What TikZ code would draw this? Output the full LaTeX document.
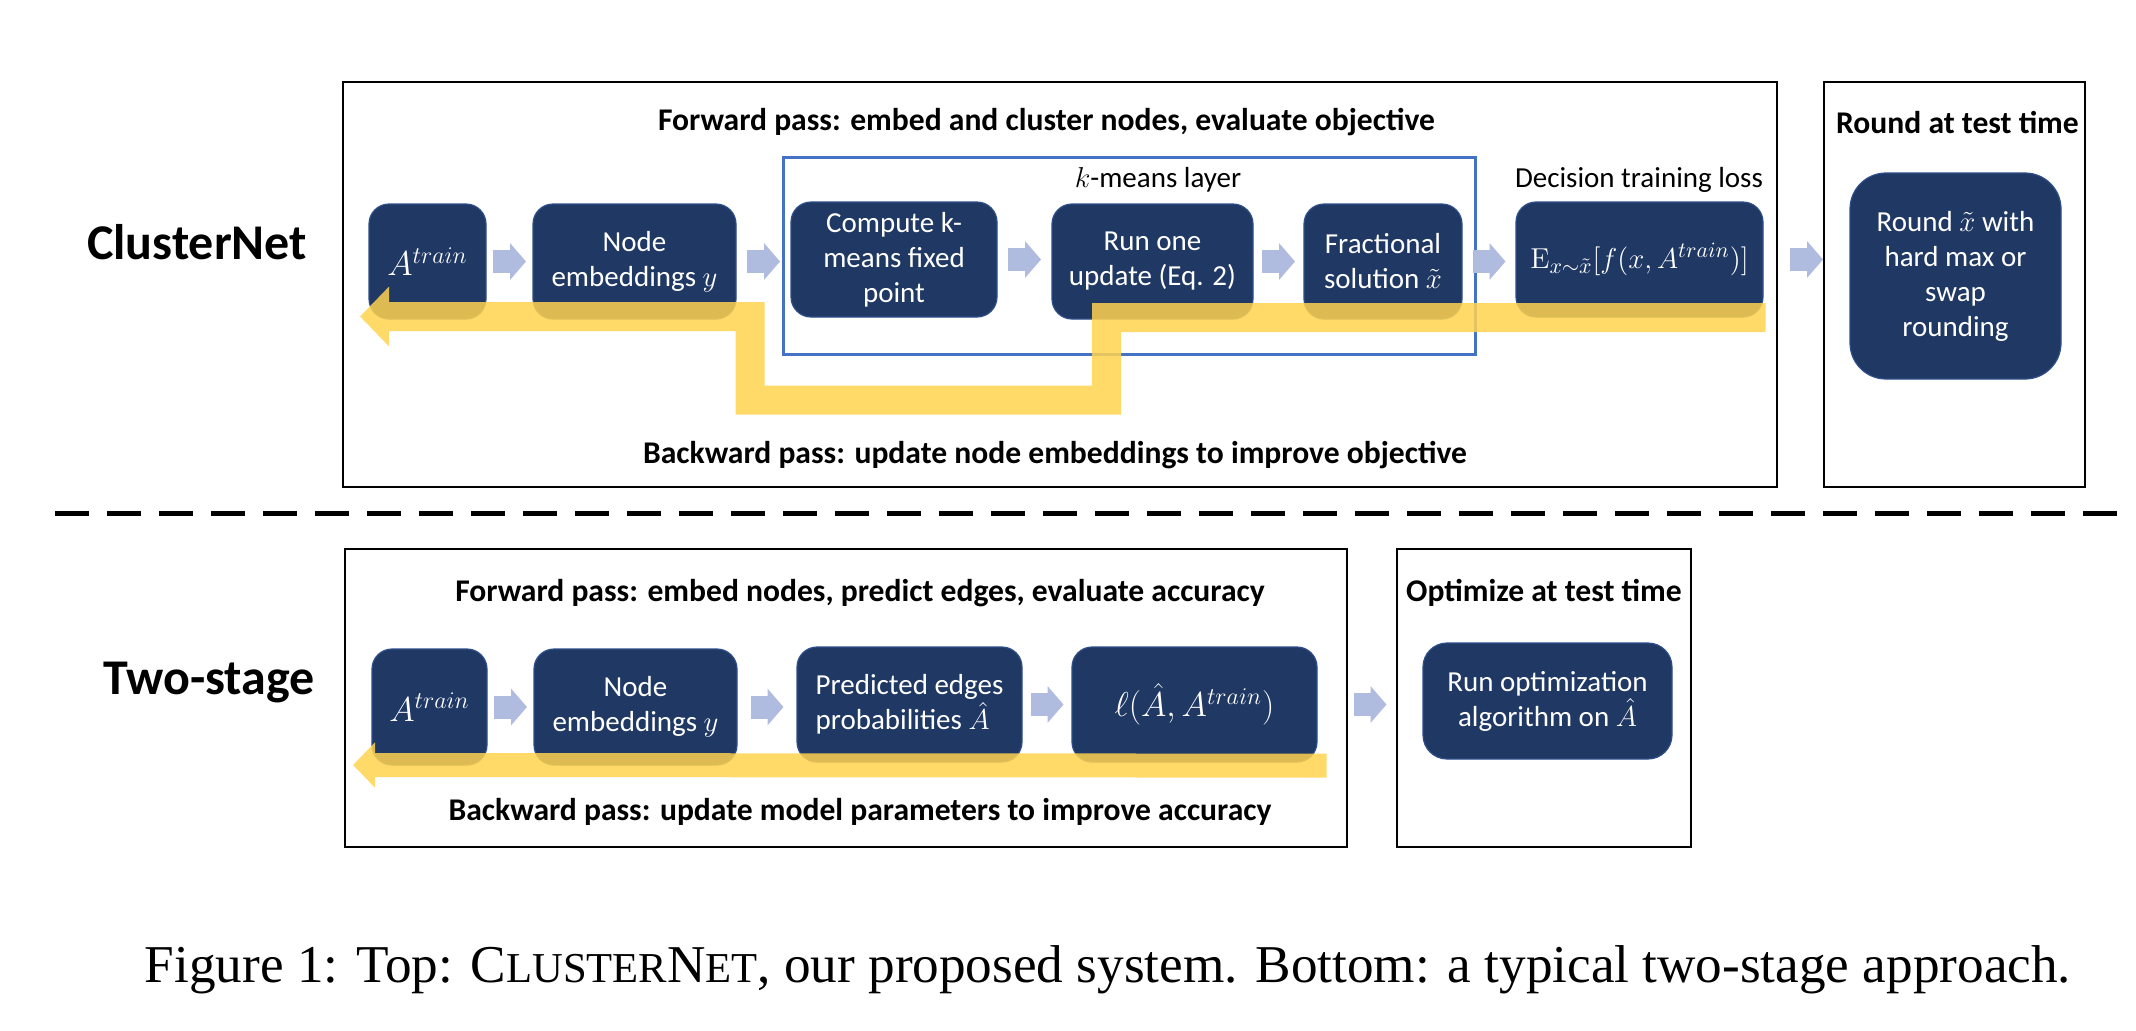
\documentclass[tikz,border=0pt]{standalone}
\usepackage[no-math]{fontspec}
\setmainfont{Carlito}
\newfontfamily\capfont{Liberation Serif}
\usetikzlibrary{arrows.meta, calc, backgrounds}
\definecolor{Navy}  {HTML}{203864}
\definecolor{NavyE} {HTML}{2F4F8A}
\definecolor{KBlue} {HTML}{4472C4}
\definecolor{Lav}   {HTML}{B0BBE0}
\definecolor{Gold}  {HTML}{FFD34F}
\newcommand{\smc}[1]{{\fontsize{21.3}{25}\selectfont #1}}
\tikzset{
  blk/.style args={#1/#2}{
    rectangle, rounded corners=10pt,
    draw=NavyE, fill=Navy, text=white, line width=0.6pt,
    font=\fontsize{14.5}{17.5}\selectfont, align=center,
    inner sep=2pt, minimum width=#1, minimum height=#2,
  },
  mth/.style={font=\fontsize{#1}{20}\selectfont},
  frm/.style args={#1/#2}{
    rectangle, draw=black, line width=1pt,
    minimum width=#1, minimum height=#2, inner sep=0pt,
  },
  hdr/.style={font=\fontsize{15.8}{19}\selectfont\bfseries, inner sep=0pt},
  lbl/.style={font=\fontsize{14.5}{17.5}\selectfont, inner sep=0pt},
  side/.style={font=\fontsize{25}{30}\selectfont\bfseries, inner sep=0pt, anchor=base},
  fwd/.style={-{Triangle[length=8pt,width=18pt]}, line width=11.5pt, color=Lav},
  band/.style args={#1/#2/#3}{
    -{Triangle[length=#2,width=#3]},
    line width=#1, color=Gold,
  },
}

\begin{document}
\begin{tikzpicture}[x=0.5pt,y=-0.5pt]
  \useasboundingbox (0,0) rectangle (2136,1030);

  % ClusterNet row
  \node[side] (cnlbl) at (197,259) {ClusterNet};
  \node[frm=717pt/202.5pt] (cnfrm)  at (1060,284.5) {};
  \node[frm=130.5pt/202.5pt] (rndfrm) at (1954.5,284.5) {};
  \node[frm=346pt/98.5pt, draw=KBlue, line width=1.5pt] (kmfrm) at (1129,255.5) {};

  \node[hdr] (cnfw)  at (1046.5,122) {Forward pass: embed and cluster nodes, evaluate objective};
  \node[hdr] (cnbw)  at (1055,455)   {Backward pass: update node embeddings to improve objective};
  \node[hdr] (rndhd) at (1957.5,122) {Round at test time};
  \node[lbl] (kmlbl) at (1158,180)   {$k$-means layer};
  \node[lbl] (dclbl) at (1639,180)   {Decision training loss};

  \node[blk=58.5pt/57.5pt, mth=17] (atr)  at (427.5,261.5) {$A^{train}$};
  \node[blk=101.5pt/57.5pt] (emb)  at (634.5,261.5) {Node\\embeddings $y$};
  \node[blk=103pt/57.5pt]   (kfix) at (894,259.5)   {Compute k-\\means fixed\\point};
  \node[blk=100.5pt/57.5pt] (upd)  at (1152.5,261.5) {Run one\\update (Eq. 2)};
  \node[blk=79pt/57.5pt]    (frac) at (1383,261.5)  {Fractional\\solution $\tilde{x}$};
  \node[blk=123.5pt/57.5pt, mth=15.8] (loss) at (1639.5,259.5)
        {$\mathrm{E}_{x\sim\tilde{x}}\big[f(x,A^{train})\big]$};
  \node[blk=105.5pt/103pt, rounded corners=18pt] (rnd) at (1955.5,276)
        {Round $\tilde{x}$ with\\hard max or\\swap\\rounding};

  \foreach \a/\b in {atr/emb, emb/kfix, kfix/upd, upd/frac, frac/loss, loss/rnd}
    \draw[fwd] ($(\a.east)!0.5!(\b.west |- \a.east)+(-16.5,0)$) -- ++(33,0);

  \coordinate (bR) at (1106.5,400);
  \coordinate (bL) at (750,400);
  \coordinate (tipA) at (360,316.5);
  \begin{scope}[transparency group, opacity=0.85]
    \draw[band=14.5pt/14.5pt/29pt]
      ([xshift=1pt]loss.south east) -| (bR) -- (bL) |- (tipA);
  \end{scope}

  \draw[line width=2.5pt, dash pattern=on 17pt off 9pt] (55,513) -- (2118,513);

  % Two-stage row
  \node[side] (tslbl) at (209,694) {Two-stage};
  \node[frm=501pt/149pt] (tsfrm)  at (846,698) {};
  \node[frm=147pt/149pt] (optfrm) at (1544,698) {};

  \node[hdr] (tsfw)  at (860,593)  {Forward pass: embed nodes, predict edges, evaluate accuracy};
  \node[hdr] (tsbw)  at (860,812)  {Backward pass: update model parameters to improve accuracy};
  \node[hdr] (opthd) at (1544,593) {Optimize at test time};

  \node[blk=57.5pt/58pt, mth=17] (atr2) at (429.5,707)  {$A^{train}$};
  \node[blk=101.5pt/58pt]   (emb2) at (635.5,707)  {Node\\embeddings $y$};
  \node[blk=112.5pt/57.5pt, align=left] (pred) at (909.5,704.5)
        {Predicted edges\\probabilities $\hat{A}$};
  \node[blk=122.5pt/57.5pt, mth=17] (ell)  at (1194.5,704.5) {$\ell(\hat{A},A^{train})$};
  \node[blk=124.5pt/58pt, rounded corners=12pt] (ropt) at (1547.5,701)
        {Run optimization\\algorithm on $\hat{A}$};

  \foreach \a/\b in {atr2/emb2, emb2/pred, pred/ell, ell/ropt}
    \draw[fwd] ($(\a.east)!0.5!(\b.west |- \a.east)+(-16.5,0)$) -- ++(33,0);

  \coordinate (tipB) at (353,765);
  \begin{scope}[transparency group, opacity=0.85]
    \draw[band=12pt/11pt/22pt] ([xshift=4.5pt,yshift=-1.5pt]ell.south east) -- (tipB);
  \end{scope}

  \node[anchor=base, inner sep=0pt, font=\capfont\fontsize{26.6}{32}\selectfont] (cap) at (1108,982)
    {Figure 1: Top: C\smc{LUSTER}N\smc{ET}, our proposed system. Bottom: a typical two-stage approach.};

\end{tikzpicture}
\end{document}
